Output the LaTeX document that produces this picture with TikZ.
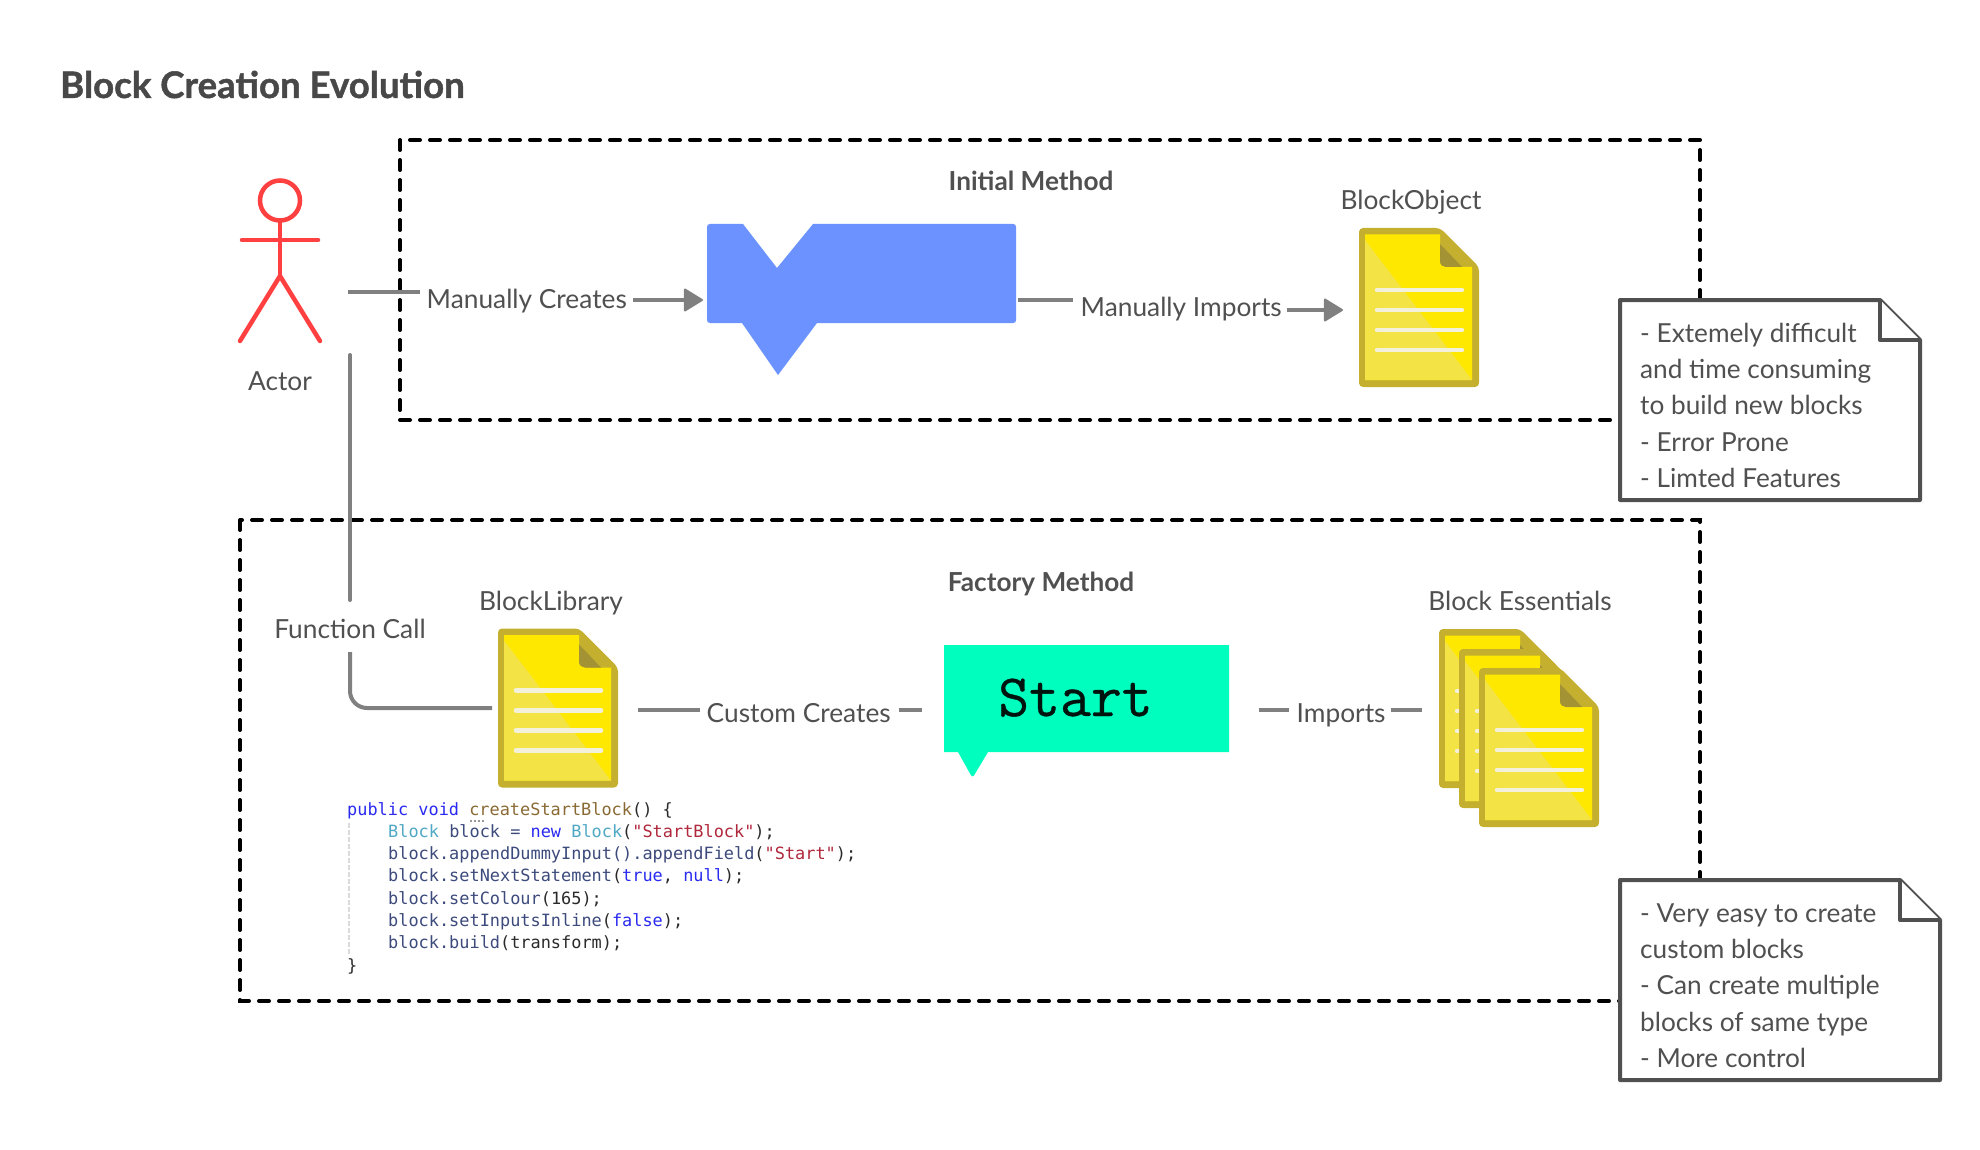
\documentclass[tikz,border=0pt]{standalone}
\usepackage{fontspec}
\setmainfont{Lato}
\newfontfamily\codefont{DejaVu Sans Mono}
\newfontfamily\titlefont[FakeBold=1.2]{Lato Bold}
\newfontfamily\startfont[FakeBold=0.6]{Latin Modern Mono}
\usetikzlibrary{arrows.meta}
\definecolor{txt}{HTML}{505050}
\definecolor{conn}{HTML}{808080}
\definecolor{actorred}{HTML}{FF4040}
\definecolor{blockblue}{HTML}{6B92FF}
\definecolor{startgreen}{HTML}{00FFBF}
\definecolor{docedge}{HTML}{C4B02E}
\definecolor{docfold}{HTML}{A39335}
\definecolor{docyellow}{HTML}{FFE800}
\definecolor{doclight}{HTML}{F4E344}
\definecolor{docline}{HTML}{F3F1DC}
\definecolor{ckey}{HTML}{2A2AF0}
\definecolor{ctype}{HTML}{4FA8C4}
\definecolor{cstr}{HTML}{B0283C}
\definecolor{cid}{HTML}{3C4A7C}
\definecolor{cfn}{HTML}{8A6A34}
\definecolor{cpl}{HTML}{2A2A2A}
\tikzset{
  lbl/.style={inner sep=0pt,anchor=base,text=txt,font=\fontsize{26.3}{30}\selectfont},
  lblw/.style={inner sep=0pt,anchor=base west,text=txt,font=\fontsize{26.3}{30}\selectfont},
  head/.style={inner sep=0pt,anchor=base,text=txt,font=\fontsize{26.2}{30}\selectfont\bfseries},
  dashbox/.style={draw=black,line width=4pt,line cap=round,dash pattern=on 10pt off 10pt},
  connector/.style={draw=conn,line width=4pt},
  arrowed/.style={connector,-{Triangle[length=20pt,width=24pt,round,line width=2pt]}},
  actorline/.style={draw=actorred,line width=4.5pt,line cap=round},
  notebox/.style={draw=txt,line width=4pt,fill=white,line join=round},
  notetext/.style={inner sep=0pt,anchor=north west,align=left,text=txt,font=\fontsize{26.2}{36.3}\selectfont},
  codeline/.style={inner sep=0pt,anchor=base west,text=cid,font=\codefont\fontsize{16.9}{20}\selectfont},
  docpic/.pic={
    \fill[docedge,rounded corners=4pt] (0,0)--(81,0)--(120,39)--(120,159)--(0,159)--cycle;
    \fill[docyellow] (6,6.5)--(81,6.5)--(81,33) .. controls (81,37) and (84,39) .. (87,39)--(113,39)--(113,152)--(6,152)--cycle;
    \fill[docfold] (81,16)--(103,39)--(87,39) .. controls (84,39) and (81,37) .. (81,33)--cycle;
    \fill[doclight] (6,12)--(113,152)--(6,152)--cycle;
    \foreach \yy in {62,82,102,122}
      \draw[docline,line width=4.5pt,line cap=round] (18,\yy)--(103,\yy);
  }
}
\begin{document}
\begin{tikzpicture}[x=1pt,y=-1pt]
\useasboundingbox (0,0) rectangle (1980,1150);
\fill[white] (0,0) rectangle (1980,1150);

% title
\node[inner sep=0pt,anchor=base west,text=txt!90!black,font=\titlefont\fontsize{36.6}{40}\selectfont] (title) at (60,98) {Block Creation Evolution};

% dashed frames
\draw[dashbox] (400,140) rectangle (1700,420);
\draw[dashbox] (240,520) rectangle (1700,1001);

% actor
\node[draw=actorred,line width=4.5pt,circle,minimum size=40pt,inner sep=0pt] (actorhead) at (280,200.5) {};
\coordinate (hip) at (280,276);
\coordinate (armL) at (242,240);
\coordinate (armR) at (318,240);
\coordinate (footL) at (240,341);
\coordinate (footR) at (320,341);
\draw[actorline] (actorhead.south)--(hip);
\draw[actorline] (armL)--(armR);
\draw[actorline] (footL)--(hip)--(footR);
\node[lbl] (actor) at (280,390) {Actor};

% blue block
\fill[blockblue] (743,224)--(777,268)--(813,224)--(1013,224) .. controls (1015,224) and (1016,225) .. (1016,227)--(1016,320) .. controls (1016,322) and (1015,323) .. (1013,323)--(817,323)--(778,375)--(742,323)--(710,323) .. controls (708,323) and (707,322) .. (707,320)--(707,227) .. controls (707,225) and (708,224) .. (710,224)--cycle;

% headings
\node[head] (initial) at (1031,191) {Initial Method};
\node[head] (factory) at (1041,591) {Factory Method};

% top row
\coordinate (a1) at (348,292);
\coordinate (a2) at (420,292);
\node[lblw] (mc) at (426.5,308) {Manually Creates};
\coordinate (a3) at (633,300);
\coordinate (a4) at (703,300);
\draw[connector] (a1)--(a2);
\draw[arrowed] (a3)--(a4);
\coordinate (b1) at (1018,300);
\coordinate (b2) at (1073,300);
\node[lblw] (mi) at (1080.5,316) {Manually Imports};
\coordinate (b3) at (1287,310);
\coordinate (b4) at (1343,310);
\draw[connector] (b1)--(b2);
\draw[arrowed] (b3)--(b4);

\node[lbl] (bo) at (1411,210) {BlockObject};
\pic at (1359,228) {docpic};

% function call
\coordinate (f1) at (350,355);
\coordinate (f2) at (350,600);
\node[lbl] (fc) at (350,638) {Function Call};
\coordinate (f3) at (350,652);
\coordinate (f4) at (492,708);
\draw[connector,line cap=round] (f1)--(f2);
\draw[connector,rounded corners=17pt] (f3)--(f3|-f4)--(f4);

% lower row
\node[lbl] (bl) at (551,610) {BlockLibrary};
\pic at (498,628.5) {docpic};
\coordinate (g1) at (638,710);
\coordinate (g2) at (700,710);
\node[lblw] (cc) at (706.5,722.5) {Custom Creates};
\coordinate (g3) at (899,710);
\coordinate (g4) at (922,710);
\draw[connector] (g1)--(g2);
\draw[connector] (g3)--(g4);

\fill[startgreen] (944,645)--(1229,645)--(1229,752)--(988,752) [rounded corners=3pt] --(972.5,778) [sharp corners] --(958,752)--(944,752)--cycle;
\node[inner sep=0pt,anchor=base west,text=black!92!startgreen,font=\startfont\fontsize{60}{64}\selectfont] (start) at (998,716) {Start};

\coordinate (h1) at (1259,710);
\coordinate (h2) at (1289,710);
\node[lblw] (imp) at (1296.5,722) {Imports};
\coordinate (h3) at (1391,710);
\coordinate (h4) at (1422,710);
\draw[connector] (h1)--(h2);
\draw[connector] (h3)--(h4);

\node[lbl] (be) at (1520,610) {Block Essentials};
\pic at (1439,629) {docpic};
\pic at (1459,649) {docpic};
\pic at (1479,668) {docpic};

% code
\node[codeline] (c1) at (347,815) {\textcolor{ckey}{public void} \textcolor{cfn}{createStartBlock}\textcolor{cpl}{() \{}};
\node[codeline] (c2) at (388,837) {\textcolor{ctype}{Block} block = \textcolor{ckey}{new} \textcolor{ctype}{Block}\textcolor{cpl}{(}\textcolor{cstr}{"StartBlock"}\textcolor{cpl}{);}};
\node[codeline] (c3) at (388,859) {block.appendDummyInput().appendField\textcolor{cpl}{(}\textcolor{cstr}{"Start"}\textcolor{cpl}{);}};
\node[codeline] (c4) at (388,881) {block.setNextStatement\textcolor{cpl}{(}\textcolor{ckey}{true}\textcolor{cpl}{,} \textcolor{ckey}{null}\textcolor{cpl}{);}};
\node[codeline] (c5) at (388,904) {block.setColour\textcolor{cpl}{(165);}};
\node[codeline] (c6) at (388,926) {block.setInputsInline\textcolor{cpl}{(}\textcolor{ckey}{false}\textcolor{cpl}{);}};
\node[codeline] (c7) at (388,948) {block.build\textcolor{cpl}{(transform);}};
\node[codeline] (c8) at (347,971) {\textcolor{cpl}{\}}};
\coordinate (gtop) at (349,823);
\coordinate (gbot) at (349,954);
\draw[black!14,line width=1.5pt,dash pattern=on 5pt off 2pt] (gtop)--(gbot);
\coordinate (d1) at (470,821);
\coordinate (d2) at (486,821);
\draw[black!40,line width=1.2pt,dash pattern=on 1.5pt off 2.5pt] (d1)--(d2);

% notes
\draw[notebox] (1620,300)--(1880,300)--(1920,340)--(1920,500)--(1620,500)--cycle;
\draw[notebox] (1880,300)--(1880,340)--(1920,340);
\node[notetext] (n1) at (1640,322) {\rule{0pt}{20pt}- Extemely difficult\\and time consuming\\to build new blocks\\- Error Prone\\- Limted Features};
\draw[notebox] (1620,880)--(1900,880)--(1940,920)--(1940,1080)--(1620,1080)--cycle;
\draw[notebox] (1900,880)--(1900,920)--(1940,920);
\node[notetext] (n2) at (1640,902) {\rule{0pt}{20pt}- Very easy to create\\custom blocks\\- Can create multiple\\blocks of same type\\- More control};
\end{tikzpicture}
\end{document}
